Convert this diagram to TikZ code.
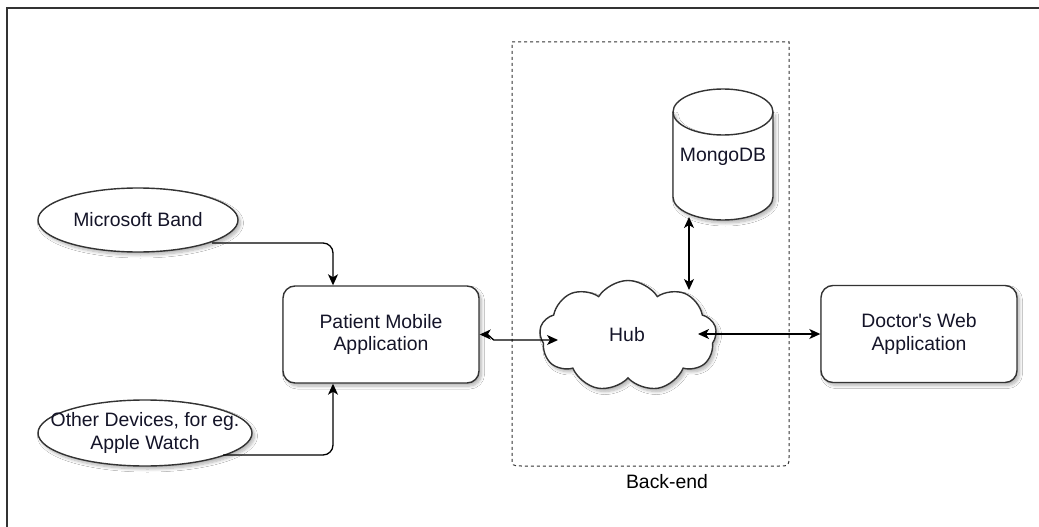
\documentclass[tikz,border=0pt]{standalone}
\usepackage{fontspec}
\setmainfont{Liberation Sans}
\usetikzlibrary{shapes.geometric,shapes.symbols,arrows.meta,calc,shadows.blur}
\definecolor{strk}{HTML}{333333}
\definecolor{txt}{HTML}{141428}
\begin{document}
\begin{tikzpicture}[x=1pt,y=-1pt,
  every node/.style={font=\fontsize{19.4}{22.5}\selectfont, text=txt, align=center},
  shad/.style={blur shadow={shadow xshift=2.5pt, shadow yshift=-3pt, shadow blur radius=3pt, shadow opacity=30, shadow blur steps=8}},
  appbox/.style={draw=strk, line width=1.4pt, fill=white, rounded corners=12pt, minimum width=196pt, minimum height=97pt, inner sep=0pt, shad},
  devell/.style={ellipse, draw=strk, line width=1.4pt, fill=white, inner sep=0pt, shad},
  hubcloud/.style={cloud, cloud puffs=9, cloud puff arc=115, aspect=1.6, draw=strk, line width=1.4pt, fill=white, minimum width=177pt, minimum height=111pt, inner sep=0pt, shad},
  arr/.style={draw=black, line width=1.3pt, -{Stealth[length=11pt,width=10pt,inset=3pt]}},
  biarr/.style={draw=black, line width=1.3pt, {Stealth[length=11pt,width=10pt,inset=3pt]}-{Stealth[length=11pt,width=10pt,inset=3pt]}},
  dashbox/.style={draw=strk, line width=1pt, dash pattern=on 3pt off 3pt}
]
\useasboundingbox (0,0) rectangle (1039,527);
\fill[white] (0,0) rectangle (1039,527);
% outer frame
\draw[strk, line width=1.5pt] (7,527) -- (7,8) -- (1039,8);

% back-end container
\draw[dashbox] (512,42) -- (789,42) -- (789,456) .. controls (789,466) .. (779,466) -- (522,466) .. controls (512,466) .. (512,456) -- cycle;
\node[text=black] (belabel) at (667,481.5) {Back-end};

% MongoDB cylinder
\fill[white, shad] (673,112) -- (673,197) arc[x radius=50, y radius=23, start angle=180, end angle=0] -- (773,112) arc[x radius=50, y radius=23, start angle=0, end angle=180] -- cycle;
\draw[strk, line width=1.4pt] (673,112) -- (673,197) arc[x radius=50, y radius=23, start angle=180, end angle=0] -- (773,112);
\draw[strk, line width=1.4pt] (723,112) ellipse[x radius=50, y radius=23];
\node (mdb) at (723,157) {MongoDB};

% nodes
\node[appbox] (pm) at (381,334.5) {Patient Mobile\\Application};
\node[appbox] (dw) at (919,334) {Doctor\textquotesingle s Web\\Application};
\node[devell, minimum width=200pt, minimum height=64pt] (mb) at (138,220) {Microsoft Band};
\node[devell, minimum width=214pt, minimum height=66pt] (od) at (145,433) {};
\node (odtext) at (od.center) {Other Devices, for eg.\\Apple Watch};
\node[hubcloud] (hub) at (628,336) {};
\node (hubtext) at (627,335) {Hub};

% connector end points
\coordinate (mbout) at (212,243);
\coordinate (odout) at (223,455);
\coordinate (mdbbot) at (689,217);
\coordinate (hubtop) at (689,290);
\coordinate (hubw) at (558,340);
\coordinate (hube) at (698,334);

% connectors
\draw[arr, rounded corners=10pt] (mbout) -| ($(pm.north)+(-48,0)$);
\draw[arr, rounded corners=10pt] (odout) -| ($(pm.south)+(-48,0)$);
\draw[biarr] (mdbbot) -- (hubtop);
\draw[biarr] (pm.east) -- ++(8,0) -- ++(6,5.5) -- (hubw);
\draw[biarr] (hube) -- (dw.west);
\end{tikzpicture}
\end{document}
